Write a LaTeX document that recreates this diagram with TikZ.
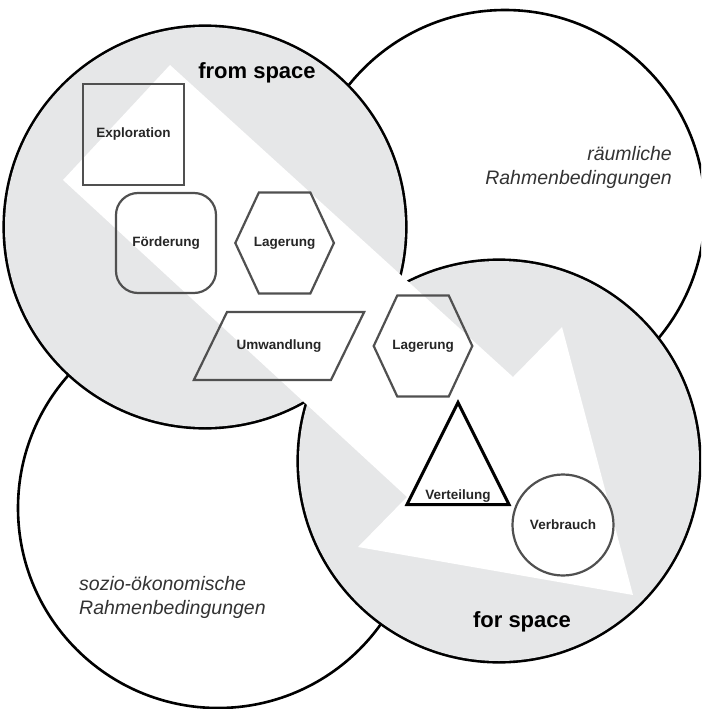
\documentclass[tikz,border=0pt]{standalone}
\usepackage{fontspec}
\setmainfont{Liberation Sans}
\usepackage{tikz}
\usetikzlibrary{shapes.geometric,shapes.symbols,positioning}
\definecolor{spacegray}{HTML}{E6E7E8}
\definecolor{edgegray}{HTML}{505050}

\begin{document}
\begin{tikzpicture}[x=1pt, y=-1pt, node distance=17pt]
	\tikzstyle{every node}=[font=\bfseries\fontsize{13.5}{16}\selectfont, text=black!85, inner sep=0pt]
	\tikzstyle{rahmen}=[fill=white, draw=black, line width=2.6pt]
	\tikzstyle{process}=[draw=edgegray, line width=2.2pt]
	\tikzstyle{hexa}=[process, signal, signal to=east and west, signal pointer angle=130, inner xsep=-5pt, minimum height=101pt]
	\tikzstyle{title}=[font=\bfseries\fontsize{22}{26}\selectfont, text=black]
	\tikzstyle{note}=[font=\itshape\fontsize{19.5}{24}\selectfont, text=black!80]
	\useasboundingbox (0,0) rectangle (701,709);
	\clip (0,0) rectangle (701,709);
	\draw[rahmen] (505,210) circle (200);
	\draw[rahmen] (218,508) circle (200);
	\draw[black, line width=5.2pt] (205,227) circle (200) (499,461) circle (200);
	\fill[spacegray] (205,227) circle (200) (499,461) circle (200);
	\fill[white] (63,180) -- (170,65) -- (513,377) -- (562,327) -- (633,595) -- (358,547) -- (407,497) -- cycle;
	\node[title]    (from)  at (257,73)    {from space};
	\node[title]    (for)   at (522,622)   {for space};
	\node[process, minimum size=101pt]   (expl)  at (133.5,134.5)  {Exploration};
	\node[process, minimum size=100pt, rounded corners=22pt] (foerd) at (166,243)  {Förderung};
	\node[hexa]     (lagA)  [right=of foerd]  {Lagerung};
	\node[process, trapezium, trapezium left angle=64, trapezium right angle=116, inner xsep=9.6pt, inner ysep=27.7pt] (umw) at (279,346) {Umwandlung};
	\node[hexa]     (lagB)  at (423,346)   {Lagerung};
	\node[draw=black, line width=3pt, isosceles triangle, isosceles triangle stretches, shape border rotate=90, minimum width=102pt, minimum height=102pt,
		label={[anchor=base, yshift=7pt]south:Verteilung}] (vert) at (458,473) {};
	\node[process, circle, minimum size=101pt] (verb) at (563,525) {Verbrauch};
	\node[note, align=right, anchor=east] (raum)  at (672,167)  {räumliche\\Rahmenbedingungen};
	\node[note, align=left, anchor=west]  (sozio) at (79,597)   {sozio-ökonomische\\Rahmenbedingungen};
\end{tikzpicture}
\end{document}
